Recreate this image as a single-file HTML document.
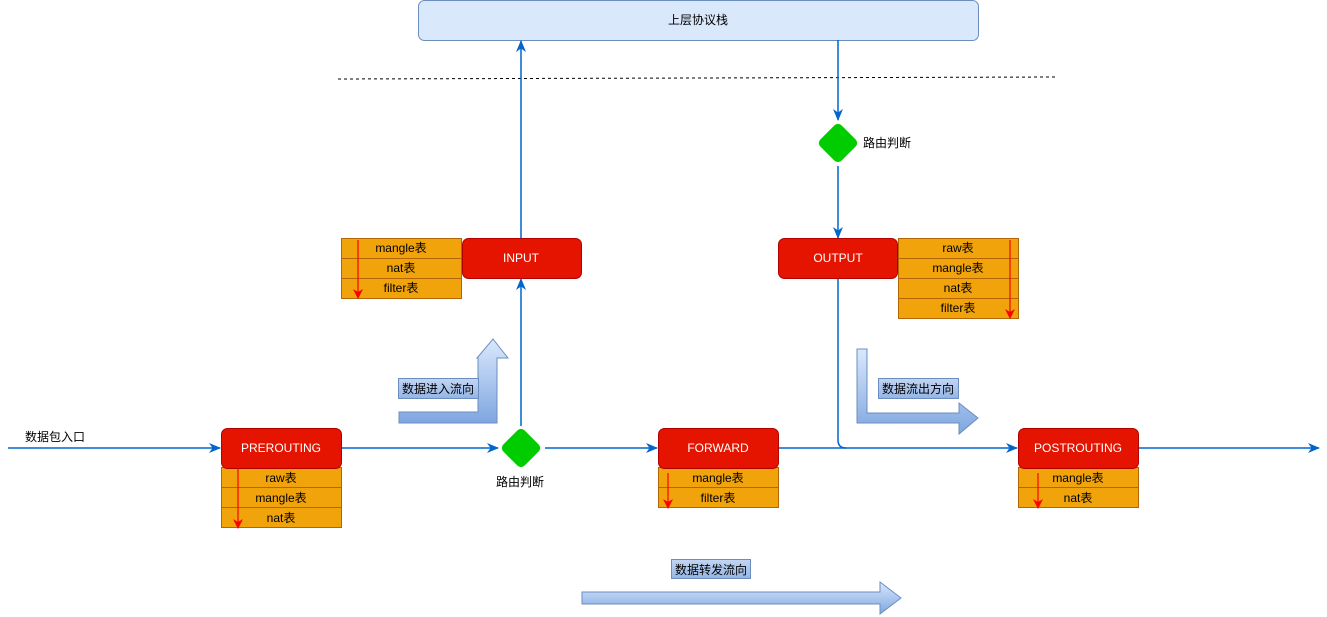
<!DOCTYPE html>
<html><head><meta charset="utf-8"><style>
html,body{margin:0;padding:0;background:#fff;}
svg{display:block;}
text{font-family:"Liberation Sans","Noto Sans CJK SC",sans-serif;font-size:12px;fill:#000;}
.w{fill:#fff;}
</style></head><body>
<svg width="1327" height="617" viewBox="0 0 1327 617" xmlns="http://www.w3.org/2000/svg">
<defs>
<marker id="a" markerWidth="12" markerHeight="12" refX="11" refY="6" orient="auto" markerUnits="userSpaceOnUse"><path d="M0,1 L12,6 L0,11 L3.5,6 z" fill="#0066cc"/></marker>
<marker id="r" markerWidth="10" markerHeight="10" refX="9" refY="5" orient="auto" markerUnits="userSpaceOnUse"><path d="M0,0 L10,5 L0,10 L3,5 z" fill="#ff0000"/></marker>
<linearGradient id="gv" x1="0" y1="0" x2="0" y2="1"><stop offset="0" stop-color="#dae8fc"/><stop offset="1" stop-color="#7ea6e0"/></linearGradient>
<linearGradient id="gl" x1="0" y1="0" x2="0" y2="1"><stop offset="0" stop-color="#c3d6f2"/><stop offset="1" stop-color="#94b5e6"/></linearGradient>
</defs>

<rect x="418.5" y="0.5" width="560" height="40" rx="6" fill="#dae8fc" stroke="#6c8ebf"/>
<text x="698" y="24" text-anchor="middle">上层协议栈</text>
<line x1="338" y1="79" x2="1056" y2="77" stroke="#000" stroke-dasharray="3,3"/>

<line x1="8" y1="448" x2="220" y2="448" stroke="#0066cc" stroke-width="1.5" marker-end="url(#a)"/>
<line x1="341" y1="448" x2="498" y2="448" stroke="#0066cc" stroke-width="1.5" marker-end="url(#a)"/>
<line x1="545" y1="448" x2="657" y2="448" stroke="#0066cc" stroke-width="1.5" marker-end="url(#a)"/>
<line x1="778" y1="448" x2="1017" y2="448" stroke="#0066cc" stroke-width="1.5" marker-end="url(#a)"/>
<line x1="1138" y1="448" x2="1319" y2="448" stroke="#0066cc" stroke-width="1.5" marker-end="url(#a)"/>
<text x="25" y="441">数据包入口</text>

<line x1="521" y1="426" x2="521" y2="279" stroke="#0066cc" stroke-width="1.5" marker-end="url(#a)"/>
<line x1="521" y1="238" x2="521" y2="41" stroke="#0066cc" stroke-width="1.5" marker-end="url(#a)"/>
<line x1="838" y1="40" x2="838" y2="120" stroke="#0066cc" stroke-width="1.5" marker-end="url(#a)"/>
<line x1="838" y1="166" x2="838" y2="238" stroke="#0066cc" stroke-width="1.5" marker-end="url(#a)"/>
<path d="M838,278 L838,440 Q838,448 846,448" fill="none" stroke="#0066cc" stroke-width="1.5"/>

<rect x="506" y="433" width="30" height="30" rx="5" transform="rotate(45 521 448)" fill="#00cc00"/>
<text x="520" y="486" text-anchor="middle">路由判断</text>
<rect x="823" y="128" width="30" height="30" rx="5" transform="rotate(45 838 143)" fill="#00cc00"/>
<text x="863" y="147">路由判断</text>

<g stroke="#b46504" fill="#f0a30a">
<rect x="341.5" y="238.5" width="120" height="20"/><rect x="341.5" y="258.5" width="120" height="20"/><rect x="341.5" y="278.5" width="120" height="20"/>
<rect x="898.5" y="238.5" width="120" height="20"/><rect x="898.5" y="258.5" width="120" height="20"/><rect x="898.5" y="278.5" width="120" height="20"/><rect x="898.5" y="298.5" width="120" height="20"/>
<rect x="221.5" y="467.5" width="120" height="20"/><rect x="221.5" y="487.5" width="120" height="20"/><rect x="221.5" y="507.5" width="120" height="20"/>
<rect x="658.5" y="467.5" width="120" height="20"/><rect x="658.5" y="487.5" width="120" height="20"/>
<rect x="1018.5" y="467.5" width="120" height="20"/><rect x="1018.5" y="487.5" width="120" height="20"/>
</g>
<text x="401" y="252" text-anchor="middle">mangle表</text>
<text x="401" y="272" text-anchor="middle">nat表</text>
<text x="401" y="292" text-anchor="middle">filter表</text>
<text x="958" y="252" text-anchor="middle">raw表</text>
<text x="958" y="272" text-anchor="middle">mangle表</text>
<text x="958" y="292" text-anchor="middle">nat表</text>
<text x="958" y="312" text-anchor="middle">filter表</text>
<text x="281" y="482" text-anchor="middle">raw表</text>
<text x="281" y="502" text-anchor="middle">mangle表</text>
<text x="281" y="522" text-anchor="middle">nat表</text>
<text x="718" y="482" text-anchor="middle">mangle表</text>
<text x="718" y="502" text-anchor="middle">filter表</text>
<text x="1078" y="482" text-anchor="middle">mangle表</text>
<text x="1078" y="502" text-anchor="middle">nat表</text>
<g stroke="#ff0000" stroke-width="1.2">
<line x1="358" y1="240" x2="358" y2="298" marker-end="url(#r)"/>
<line x1="1010" y1="240" x2="1010" y2="318" marker-end="url(#r)"/>
<line x1="238" y1="467" x2="238" y2="528" marker-end="url(#r)"/>
<line x1="668" y1="473" x2="668" y2="508" marker-end="url(#r)"/>
<line x1="1038" y1="473" x2="1038" y2="508" marker-end="url(#r)"/>
</g>

<g fill="#e51400" stroke="#b20000">
<rect x="462.5" y="238.5" width="119" height="40" rx="6"/>
<rect x="778.5" y="238.5" width="119" height="40" rx="6"/>
<rect x="221.5" y="428.5" width="120" height="40" rx="6"/>
<rect x="658.5" y="428.5" width="120" height="40" rx="6"/>
<rect x="1018.5" y="428.5" width="120" height="40" rx="6"/>
</g>
<text class="w" x="521" y="262" text-anchor="middle">INPUT</text>
<text class="w" x="838" y="262" text-anchor="middle">OUTPUT</text>
<text class="w" x="281" y="452" text-anchor="middle">PREROUTING</text>
<text class="w" x="718" y="452" text-anchor="middle">FORWARD</text>
<text class="w" x="1078" y="452" text-anchor="middle">POSTROUTING</text>

<path d="M399,412 L478,412 L478,358 L477,358 L493,339 L508,358 L497,358 L497,423 L399,423 z" fill="url(#gv)" stroke="#6c8ebf"/>
<rect x="398.5" y="378.5" width="80" height="20" fill="url(#gl)" stroke="#6c8ebf"/>
<text x="438" y="393" text-anchor="middle">数据进入流向</text>

<path d="M857,349 L867,349 L867,413 L959,413 L959,403 L978,418 L959,434 L959,423 L857,423 z" fill="url(#gv)" stroke="#6c8ebf"/>
<rect x="878.5" y="378.5" width="80" height="20" fill="url(#gl)" stroke="#6c8ebf"/>
<text x="918" y="393" text-anchor="middle">数据流出方向</text>

<path d="M582,592 L880,592 L880,582 L901,598 L880,614 L880,604 L582,604 z" fill="url(#gv)" stroke="#6c8ebf"/>
<rect x="671.5" y="559.5" width="79" height="19" fill="url(#gl)" stroke="#6c8ebf"/>
<text x="711" y="574" text-anchor="middle">数据转发流向</text>
</svg>
</body></html>
